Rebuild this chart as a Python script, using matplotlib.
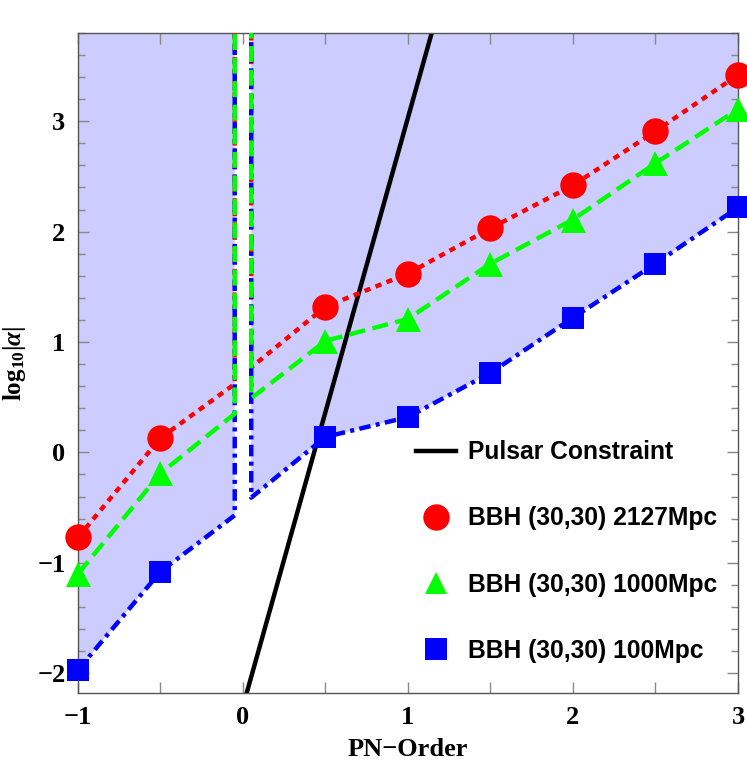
import numpy as np
import matplotlib.pyplot as plt
from matplotlib.ticker import MultipleLocator
from matplotlib.lines import Line2D

# PN orders where the bounds were computed
pn = [-1.0, -0.5, 0.5, 1.0, 1.5, 2.0, 2.5, 3.0]

# log10|alpha| bounds
red_vals = [-0.77, 0.13, 1.32, 1.62, 2.03, 2.42, 2.91, 3.42]     # 2127 Mpc
green_vals = [-1.10, -0.19, 1.01, 1.21, 1.71, 2.11, 2.62, 3.11]  # 1000 Mpc
blue_vals = [-1.97, -1.08, 0.14, 0.32, 0.72, 1.22, 1.71, 2.22]   # 100 Mpc

# values next to the 0PN singularity (x = -0.05 and x = +0.05)
near_x = [-0.05, 0.05]
red_near = [0.62, 0.77]
green_near = [0.35, 0.49]
blue_near = [-0.57, -0.41]

# pulsar constraint line end points
pulsar_x = [0.0, 1.2]
pulsar_y = [-2.3, 4.1]

labels = ['BBH (30,30) 2127Mpc', 'BBH (30,30) 1000Mpc', 'BBH (30,30) 100Mpc']

BIG = 50.0


def with_pole(vals, near):
    xs = pn[:2] + [near_x[0], near_x[0], near_x[1], near_x[1]] + pn[2:]
    ys = vals[:2] + [near[0], BIG, BIG, near[1]] + vals[2:]
    return xs, ys


plt.rcParams['mathtext.fontset'] = 'custom'
plt.rcParams['mathtext.rm'] = 'Liberation Serif:bold'
plt.rcParams['mathtext.bf'] = 'Liberation Serif:bold'
plt.rcParams['mathtext.it'] = 'Liberation Serif:italic:bold'

fig = plt.figure(figsize=(7.47, 7.65), dpi=100)
ax = fig.add_axes([0.1044, 0.0941, 0.8835, 0.8628])

# shaded allowed region above the 100 Mpc bound
fill_col = '#ccccff'
ax.fill_between(pn[:2] + [near_x[0]], blue_vals[:2] + [blue_near[0]], BIG,
                color=fill_col, lw=0, zorder=0)
ax.fill_between([near_x[1]] + pn[2:], [blue_near[1]] + blue_vals[2:], BIG,
                color=fill_col, lw=0, zorder=0)

ax.plot(pulsar_x, pulsar_y, color='black', lw=3.2, zorder=2,
        label='Pulsar Constraint', solid_capstyle='butt')

red, green, blue = '#ff0000', '#00ff00', '#0000ff'
styles = [
    (red, red_vals, red_near, (0, (1.4, 1.25)), 'o', 19),
    (blue, blue_vals, blue_near, (0, (2.6, 1.2, 0.9, 1.2)), 's', 16),
    (green, green_vals, green_near, (0, (3.6, 1.7)), '^', 18),
]
for col, vals, near, ls, mk, ms in styles:
    xs, ys = with_pole(vals, near)
    ax.plot(xs, ys, color=col, lw=3.2, linestyle=ls, zorder=3)
for col, vals, near, ls, mk, ms in styles:
    ax.plot(pn, vals, linestyle='none', marker=mk, ms=ms, color=col,
            markeredgewidth=0, zorder=4, clip_on=False)

ax.set_xlim(-1, 3)
ax.set_ylim(-2.18, 3.8)

ax.xaxis.set_major_locator(MultipleLocator(1))
ax.xaxis.set_minor_locator(MultipleLocator(0.5))
ax.yaxis.set_major_locator(MultipleLocator(1))
ax.yaxis.set_minor_locator(MultipleLocator(0.2))
ax.tick_params(which='both', direction='in', top=True, right=True,
               color='#888888', width=1.0)
ax.tick_params(which='major', length=8, pad=9)
ax.tick_params(which='minor', length=5)
ax.tick_params(axis='x', which='minor', length=8)
for lab in ax.get_xticklabels() + ax.get_yticklabels():
    lab.set_family('Liberation Serif')
    lab.set_fontweight('bold')
    lab.set_fontsize(19)
for sp in ax.spines.values():
    sp.set_color('#555555')
    sp.set_linewidth(1.0)

ax.set_xlabel('PN\u2212Order', family='Liberation Serif', fontweight='bold',
              fontsize=19, labelpad=7)
ax.set_ylabel(r'$\mathrm{log}_{10}|\alpha|$', fontsize=18)
ax.yaxis.set_label_coords(-0.076, 0.5)

handles = [Line2D([], [], color='black', lw=3.2)]
for col, mk, ms in [(red, 'o', 19), (green, '^', 16), (blue, 's', 16)]:
    handles.append(Line2D([], [], color=col, marker=mk, ms=ms, ls='none',
                          markeredgewidth=0))
ax.legend(handles, ['Pulsar Constraint'] + labels, loc='lower left',
          bbox_to_anchor=(0.479, 0.012), frameon=False, handlelength=1.6,
          labelspacing=1.72, handletextpad=0.5,
          prop={'family': 'Liberation Sans', 'weight': 'bold', 'size': 17.7})

fig.savefig('out.png', dpi=100)
